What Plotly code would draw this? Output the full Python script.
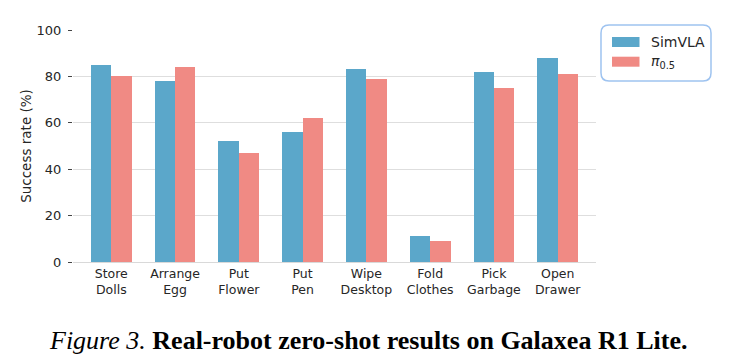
import plotly.graph_objects as go

categories = ["Store<br>Dolls", "Arrange<br>Egg", "Put<br>Flower", "Put<br>Pen",
              "Wipe<br>Desktop", "Fold<br>Clothes", "Pick<br>Garbage", "Open<br>Drawer"]
simvla = [85, 78, 52, 56, 83, 11, 82, 88]
pi05 = [80, 84, 47, 62, 79, 9, 75, 81]
series_names = ["SimVLA", "<i>π</i><sub>0.5</sub>"]
y_ticks = [0, 20, 40, 60, 80, 100]

BLUE = "#5BA7CA"
RED = "#F08A84"
TXT = "#262626"
colors = [BLUE, RED]

fig = go.Figure()
fig.add_bar(x=list(range(len(categories))), y=simvla, name=series_names[0],
            marker=dict(color=BLUE, line=dict(width=0)), offset=-0.32, width=0.32)
fig.add_bar(x=list(range(len(categories))), y=pi05, name=series_names[1],
            marker=dict(color=RED, line=dict(width=0)), offset=0.0, width=0.32)

fig.update_layout(
    width=735, height=364,
    margin=dict(l=73, r=139, t=30, b=102),
    paper_bgcolor="white", plot_bgcolor="white",
    font=dict(family="DejaVu Sans", size=12.5, color=TXT),
    showlegend=False,
    bargap=0,
)
fig.update_xaxes(
    tickmode="array", tickvals=list(range(len(categories))), ticktext=categories,
    range=[-0.6, 7.6], showgrid=False, showline=True, linecolor="#d9d9d9",
    linewidth=1, ticks="", zeroline=False, tickfont=dict(size=12.5, color=TXT),
)
fig.update_yaxes(
    range=[0, 100], tickvals=y_ticks, showgrid=True, gridcolor="#dedede",
    gridwidth=1, zeroline=False, showline=False, ticks="outside", ticklen=4,
    tickcolor="#444444", tickfont=dict(size=13, color=TXT), ticklabelstandoff=4,
    title=dict(text="Success rate (%)", font=dict(size=13.5, color=TXT), standoff=1),
)

pl, pr, pt, pb = 73, 596, 30, 262
def px(x):
    return (x - pl) / (pr - pl)
def py(y):
    return (pb - y) / (pb - pt)

# rounded legend frame
x0, x1, y0, y1 = 601, 711, 25, 81
r = 8
path = (f"M {x0+r},{y0} L {x1-r},{y0} Q {x1},{y0} {x1},{y0+r} L {x1},{y1-r} "
        f"Q {x1},{y1} {x1-r},{y1} L {x0+r},{y1} Q {x0},{y1} {x0},{y1-r} "
        f"L {x0},{y0+r} Q {x0},{y0} {x0+r},{y0} Z")
out = []
for t in path.split():
    if "," in t:
        a, b = t.split(",")
        out.append(f"{px(float(a)):.5f},{py(float(b)):.5f}")
    else:
        out.append(t)
fig.add_shape(type="path", path=" ".join(out), xref="paper", yref="paper",
              line=dict(color="#9EC3F0", width=1.5), fillcolor="rgba(0,0,0,0)")

# legend entries
for i, (name, col) in enumerate(zip(series_names, colors)):
    cy = 42 + i * 19.7
    fig.add_shape(type="rect", xref="paper", yref="paper",
                  x0=px(612), x1=px(639.5), y0=py(cy - 5), y1=py(cy + 5),
                  line=dict(width=0), fillcolor=col)
    fig.add_annotation(text=name, xref="paper", yref="paper", x=px(649), y=py(cy),
                       xanchor="left", yanchor="middle", showarrow=False,
                       font=dict(size=14, color=TXT))

fig.add_annotation(
    text="<i>Figure 3.</i> <b>Real-robot zero-shot results on Galaxea R1 Lite.</b>",
    xref="paper", yref="paper", x=px(368), y=py(340),
    xanchor="center", yanchor="middle", showarrow=False,
    font=dict(family="Liberation Serif", size=26, color="black"),
)

fig.write_html("out.html")
